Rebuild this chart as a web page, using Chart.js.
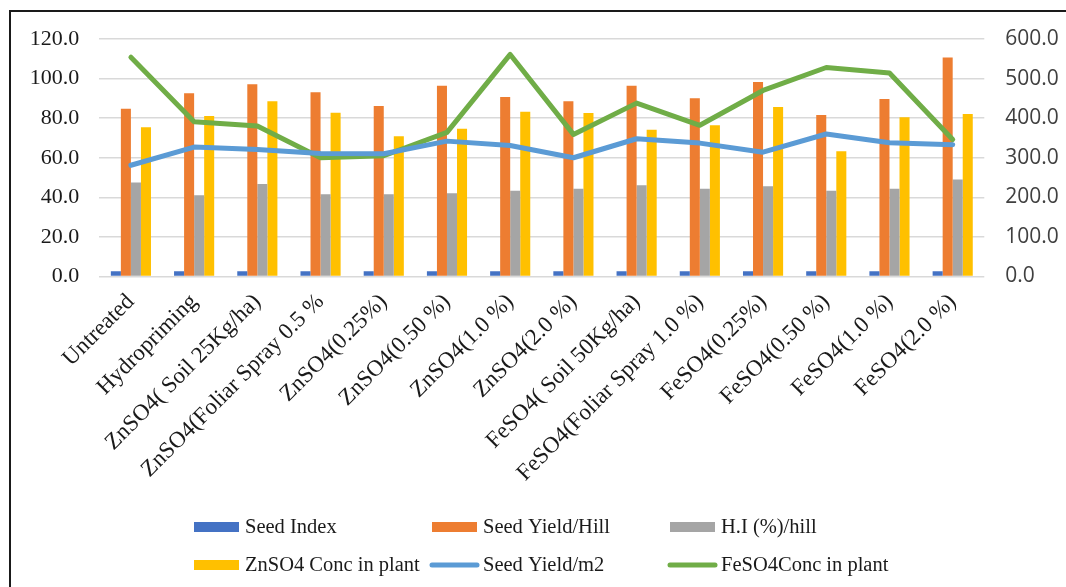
<!DOCTYPE html>
<html>
<head>
<meta charset="utf-8">
<style>
  html, body { margin: 0; padding: 0; background: #ffffff; }
  #wrap { position: relative; width: 1066px; height: 587px; }
</style>
<script src="https://cdn.jsdelivr.net/npm/chart.js@4.4.1/dist/chart.umd.min.js"></script>
</head>
<body>
<div id="wrap"><canvas id="chart" width="1066" height="587"></canvas></div>
<script>
// Treatments on the category axis
const categories = [
  "Untreated", "Hydropriming", "ZnSO4( Soil 25Kg/ha)", "ZnSO4(Foliar Spray 0.5 %",
  "ZnSO4(0.25%)", "ZnSO4(0.50 %)", "ZnSO4(1.0 %)", "ZnSO4(2.0 %)",
  "FeSO4( Soil 50Kg/ha)", "FeSO4(Foliar Spray 1.0 %)", "FeSO4(0.25%)",
  "FeSO4(0.50 %)", "FeSO4(1.0 %)", "FeSO4(2.0 %)"
];

// Bar series (left axis)
const seedIndex     = [2.6, 2.6, 2.6, 2.6, 2.6, 2.6, 2.6, 2.6, 2.6, 2.6, 2.6, 2.6, 2.6, 2.6];
const seedYieldHill = [84.7, 92.6, 97.1, 93.1, 86.2, 96.4, 90.7, 88.5, 96.4, 90.1, 98.3, 81.6, 89.7, 110.7];
const hiPerHill     = [47.5, 41.1, 46.8, 41.6, 41.6, 42.1, 43.3, 44.4, 46.1, 44.3, 45.6, 43.3, 44.4, 49.0];
const znConcPlant   = [75.4, 81.1, 88.5, 82.8, 70.9, 74.7, 83.3, 82.6, 74.2, 76.4, 85.7, 63.3, 80.5, 82.1];

// Line series (right axis)
const seedYieldM2   = [281, 327, 321, 311, 310, 342, 331, 300, 348, 337, 314, 360, 338, 333];
const feConcPlant   = [554, 391, 380, 300, 305, 364, 561, 359, 438, 382, 470, 528, 514, 346];

// Axis tick settings
const leftTicks  = { min: 0, max: 120, step: 20 };
const rightTicks = { min: 0, max: 600, step: 100 };

const seriesNames = ["Seed Index", "Seed Yield/Hill", "H.I (%)/hill",
                     "ZnSO4 Conc in plant", "Seed Yield/m2", "FeSO4Conc in plant"];
const seriesColors = ["#4472C4", "#ED7D31", "#A5A5A5", "#FFC000", "#5B9BD5", "#70AD47"];

const serif = "'Liberation Serif', 'Times New Roman', serif";
const sans  = "'Open Sans', 'Liberation Sans', sans-serif";

function barSet(i, data) {
  return {
    type: 'bar', label: seriesNames[i], data: data, yAxisID: 'y',
    backgroundColor: seriesColors[i], borderWidth: 0,
    categoryPercentage: 0.635, barPercentage: 1.0, order: 2
  };
}
function lineSet(i, data) {
  return {
    type: 'line', label: seriesNames[i], data: data, yAxisID: 'y1',
    borderColor: seriesColors[i], backgroundColor: seriesColors[i],
    borderWidth: 5, pointRadius: 0, tension: 0,
    borderJoinStyle: 'round', borderCapStyle: 'round', order: 1
  };
}

// Outer frame: left and top edges
const framePlugin = {
  id: 'frame',
  beforeDraw(chart) {
    const c = chart.ctx;
    c.save();
    c.strokeStyle = '#1a1a1a';
    c.lineWidth = 2;
    c.beginPath();
    c.moveTo(10, chart.height + 2);
    c.lineTo(10, 11);
    c.lineTo(chart.width + 2, 11);
    c.stroke();
    c.restore();
  }
};

// Two-row, three-column legend
const gridLegend = {
  id: 'gridLegend',
  afterDraw(chart) {
    const c = chart.ctx;
    const colX = [194, 432, 670];
    const rowY = [527, 565];
    c.save();
    c.font = '20.5px ' + serif;
    c.textBaseline = 'middle';
    c.textAlign = 'left';
    chart.data.datasets.forEach((ds, i) => {
      const x = colX[i % 3];
      const y = rowY[Math.floor(i / 3)];
      if (ds.type === 'line') {
        c.strokeStyle = ds.borderColor;
        c.lineWidth = 5;
        c.lineCap = 'round';
        c.beginPath();
        c.moveTo(x, y);
        c.lineTo(x + 45, y);
        c.stroke();
      } else {
        c.fillStyle = ds.backgroundColor;
        c.fillRect(x, y - 5, 45, 10);
      }
      c.fillStyle = '#1a1a1a';
      c.fillText(ds.label, x + 51, y + 1);
    });
    c.restore();
  }
};

new Chart(document.getElementById('chart'), {
  data: {
    labels: categories,
    datasets: [
      barSet(0, seedIndex),
      barSet(1, seedYieldHill),
      barSet(2, hiPerHill),
      barSet(3, znConcPlant),
      lineSet(4, seedYieldM2),
      lineSet(5, feConcPlant)
    ]
  },
  options: {
    responsive: false,
    animation: false,
    layout: { padding: { top: 39, left: 0, right: 0, bottom: 0 } },
    plugins: { legend: { display: false }, tooltip: { enabled: false } },
    scales: {
      x: {
        grid: { display: false, drawTicks: false },
        border: { display: false },
        ticks: {
          autoSkip: false, maxRotation: 45, minRotation: 45,
          color: '#1a1a1a', padding: 12,
          font: { family: serif, size: 23 }
        },
        afterFit(scale) { scale.height = 587 - 276.5; }
      },
      y: {
        position: 'left',
        min: leftTicks.min, max: leftTicks.max,
        grid: { color: '#d9d9d9', lineWidth: 1.5, drawTicks: false },
        border: { display: false },
        ticks: {
          stepSize: leftTicks.step, padding: 20, color: '#1a1a1a',
          font: { family: serif, size: 22 },
          callback: v => Number(v).toFixed(1)
        },
        afterFit(scale) { scale.width = 99.3; }
      },
      y1: {
        position: 'right',
        min: rightTicks.min, max: rightTicks.max,
        grid: { display: false, drawOnChartArea: false, drawTicks: false },
        border: { display: false },
        ticks: {
          stepSize: rightTicks.step, padding: 21, color: '#404040',
          font: { family: sans, size: 21 },
          callback: v => Number(v).toFixed(1)
        },
        afterFit(scale) { scale.width = 1066 - 984.3; }
      }
    }
  },
  plugins: [framePlugin, gridLegend]
});
</script>
</body>
</html>
